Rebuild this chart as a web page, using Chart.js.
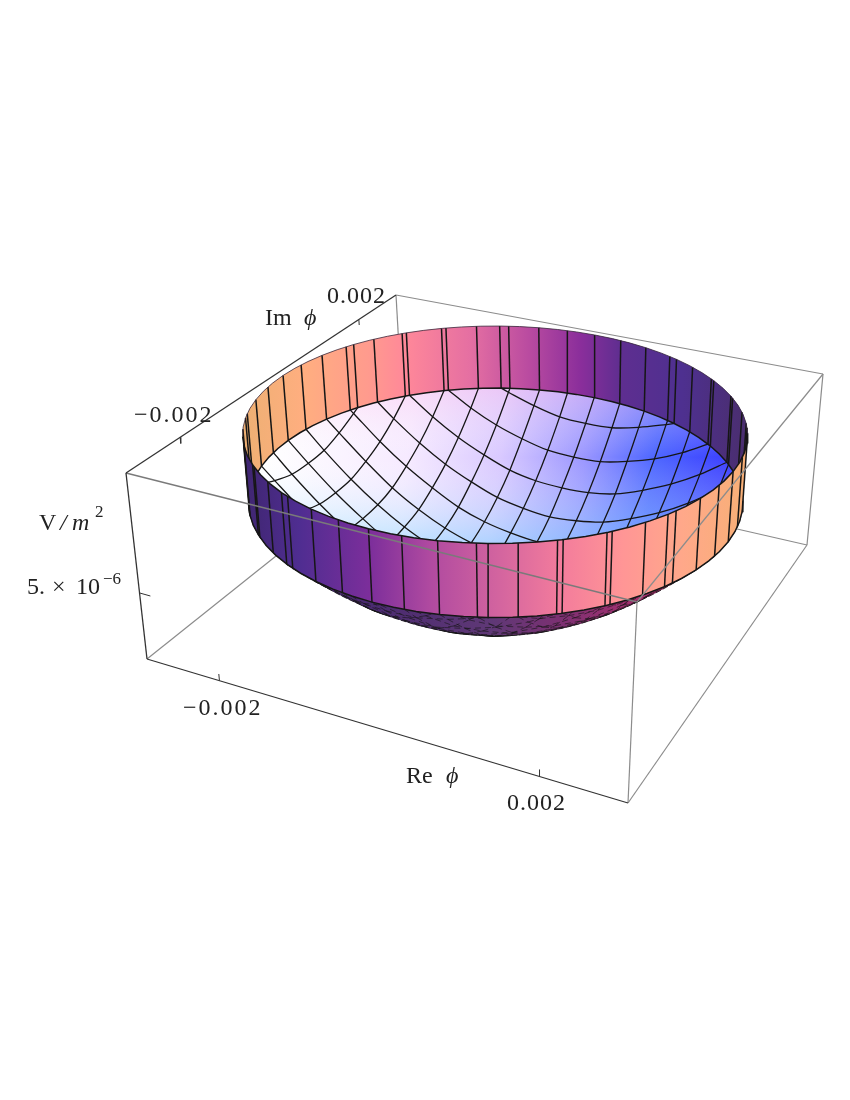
<!DOCTYPE html>
<html>
<head>
<meta charset="utf-8">
<title>V / m^2 over the complex phi plane</title>
<script src="https://cdn.jsdelivr.net/npm/chart.js@4"></script>
<style>
    html, body { margin: 0; padding: 0; background: #fff; }
    canvas { display: block; }
</style>
</head>
<body>
<canvas id="chart" width="850" height="1100"></canvas>
<script>
// ======================================
// Data
// ======================================
const meshRe = [-0.002625, -0.00225, -0.001875, -0.0015, -0.001125, -0.00075, -0.000375, 0,
    0.000375, 0.00075, 0.001125, 0.0015, 0.001875, 0.00225, 0.002625];
const meshIm = [-0.002625, -0.00225, -0.001875, -0.0015, -0.001125, -0.00075, -0.000375, 0,
    0.000375, 0.00075, 0.001125, 0.0015, 0.001875, 0.00225, 0.002625];

// V (in 1e-6) at each mesh crossing, rows = meshIm, columns = meshRe, null = outside the wall
const vMesh = [
    [null, null, null, null, 8.5, 7.8, 7.3, 7.2, 7.3, 7.8, 8.5, null, null, null, null],
    [null, null, null, 7.6, 6.6, 5.9, 5.4, 5.3, 5.4, 5.9, 6.6, 7.6, null, null, null],
    [null, null, 7.3, 6.0, 5.0, 4.2, 3.8, 3.7, 3.8, 4.2, 5.0, 6.0, 7.3, null, null],
    [null, 7.6, 6.0, 4.7, 3.7, 2.9, 2.5, 2.3, 2.5, 2.9, 3.7, 4.7, 6.0, 7.6, null],
    [8.5, 6.6, 5.0, 3.7, 2.6, 1.9, 1.5, 1.3, 1.5, 1.9, 2.6, 3.7, 5.0, 6.6, 8.5],
    [7.8, 5.9, 4.2, 2.9, 1.9, 1.2, 0.7, 0.6, 0.7, 1.2, 1.9, 2.9, 4.2, 5.9, 7.8],
    [7.3, 5.4, 3.8, 2.5, 1.5, 0.7, 0.3, 0.1, 0.3, 0.7, 1.5, 2.5, 3.8, 5.4, 7.3],
    [7.2, 5.3, 3.7, 2.3, 1.3, 0.6, 0.1, 0.0, 0.1, 0.6, 1.3, 2.3, 3.7, 5.3, 7.2],
    [7.3, 5.4, 3.8, 2.5, 1.5, 0.7, 0.3, 0.1, 0.3, 0.7, 1.5, 2.5, 3.8, 5.4, 7.3],
    [7.8, 5.9, 4.2, 2.9, 1.9, 1.2, 0.7, 0.6, 0.7, 1.2, 1.9, 2.9, 4.2, 5.9, 7.8],
    [8.5, 6.6, 5.0, 3.7, 2.6, 1.9, 1.5, 1.3, 1.5, 1.9, 2.6, 3.7, 5.0, 6.6, 8.5],
    [null, 7.6, 6.0, 4.7, 3.7, 2.9, 2.5, 2.3, 2.5, 2.9, 3.7, 4.7, 6.0, 7.6, null],
    [null, null, 7.3, 6.0, 5.0, 4.2, 3.8, 3.7, 3.8, 4.2, 5.0, 6.0, 7.3, null, null],
    [null, null, null, 7.6, 6.6, 5.9, 5.4, 5.3, 5.4, 5.9, 6.6, 7.6, null, null, null],
    [null, null, null, null, 8.5, 7.8, 7.3, 7.2, 7.3, 7.8, 8.5, null, null, null, null]
];

// bowl profile, used for the outline of the underside
const rProfile = [0, 0.0005, 0.001, 0.0012, 0.0014, 0.0016, 0.0018, 0.002, 0.0021, 0.0022,
    0.0023, 0.0024, 0.0025, 0.0026, 0.0027, 0.0028, 0.0029];
const vProfile = [0, 0.26, 1.04, 1.5, 2.04, 2.66, 3.37, 4.16, 4.59, 5.03, 5.5, 5.99, 6.5, 7.03, 7.58, 8.15, 8.73];

const rimRadius = 0.0029;
const vWallBase = 8.73;
const vWallTop = 14.08;
const rimDeg = [0, 5, 10, 15, 20, 25, 30, 35, 40, 45, 50, 55, 60, 65, 70, 75, 80, 85, 90, 95, 100, 105, 110,
    115, 120, 125, 130, 135, 140, 145, 150, 155, 160, 165, 170, 175, 180, 185, 190, 195, 200, 205, 210, 215,
    220, 225, 230, 235, 240, 245, 250, 255, 260, 265, 270, 275, 280, 285, 290, 295, 300, 305, 310, 315, 320,
    325, 330, 335, 340, 345, 350, 355];

const reTicks = [-0.002, 0.002];
const imTicks = [-0.002, 0.002];
const vTicks = [5];

// ======================================
// Projection of the plot box onto the page
// ======================================
const reRange = [-0.003, 0.003];
const imRange = [-0.003, 0.003];
const vRange = [0, 14.08];

// corners: (re-, im-), (re+, im-), (re+, im+), (re-, im+)
const boxTop = [[126, 473], [637, 602], [823, 374], [396, 295]];
const boxBottom = [[147, 659], [628, 803], [807, 545], [405, 453]];

function squareToQuad(q) {
    const [[x0, y0], [x1, y1], [x2, y2], [x3, y3]] = q;
    const dx1 = x1 - x2, dx2 = x3 - x2, sx = x0 - x1 + x2 - x3;
    const dy1 = y1 - y2, dy2 = y3 - y2, sy = y0 - y1 + y2 - y3;
    const det = dx1 * dy2 - dx2 * dy1;
    const g = (sx * dy2 - dx2 * sy) / det;
    const h = (dx1 * sy - sx * dy1) / det;
    return (u, v) => {
        const w = g * u + h * v + 1;
        return [
            ((x1 - x0 + g * x1) * u + (x3 - x0 + h * x3) * v + x0) / w,
            ((y1 - y0 + g * y1) * u + (y3 - y0 + h * y3) * v + y0) / w
        ];
    };
}

const topPlane = squareToQuad(boxTop);
const bottomPlane = squareToQuad(boxBottom);

function project(re, im, v) {
    const u = (re - reRange[0]) / (reRange[1] - reRange[0]);
    const w = (im - imRange[0]) / (imRange[1] - imRange[0]);
    const t = (v - vRange[0]) / (vRange[1] - vRange[0]);
    const a = topPlane(u, w);
    const b = bottomPlane(u, w);
    return { x: b[0] + (a[0] - b[0]) * t, y: b[1] + (a[1] - b[1]) * t };
}

function rimPoint(deg, v) {
    const a = deg * Math.PI / 180;
    return project(rimRadius * Math.cos(a), rimRadius * Math.sin(a), v);
}

// ======================================
// Datasets, painted back to front
// ======================================
const datasets = [];

function addLine(points, color, width, extra = {}) {
    datasets.push(Object.assign({
        data: points, showLine: true, pointRadius: 0, borderColor: color, borderWidth: width,
        fill: false, order: -datasets.length
    }, extra));
}

function addFill(points, background) {
    datasets.push({
        data: points.concat([points[0]]), showLine: true, pointRadius: 0, borderWidth: 0,
        borderColor: "transparent", backgroundColor: background, fill: "shape", order: -datasets.length
    });
}

function gradient(ctx, x0, y0, x1, y1, stops) {
    const g = ctx.createLinearGradient(x0, y0, x1, y1);
    stops.forEach(s => g.addColorStop(s[0], s[1]));
    return g;
}

function boxEdge(a, b, color, width) {
    const corner = p => project(reRange[p[0]], imRange[p[1]], vRange[p[2]]);
    addLine([corner(a), corner(b)], color, width);
}

const ctx = document.getElementById("chart").getContext("2d");
const gray = "#8c8c8c";
const ink = "#161616";

// split the rim at its left and right ends on the page
const rimTop = rimDeg.map(d => rimPoint(d, vWallTop));
let leftEnd = 0, rightEnd = 0;
rimTop.forEach((p, i) => {
    if (p.x < rimTop[leftEnd].x) leftEnd = i;
    if (p.x > rimTop[rightEnd].x) rightEnd = i;
});
const backDeg = [], frontDeg = [];
for (let i = rightEnd; ; i = (i + 1) % rimDeg.length) {
    backDeg.push(rimDeg[i]);
    if (i === leftEnd) break;
}
for (let i = leftEnd; ; i = (i + 1) % rimDeg.length) {
    frontDeg.push(rimDeg[i]);
    if (i === rightEnd) break;
}

function isBack(re, im) {
    const l = rimTop[leftEnd], r = rimTop[rightEnd], p = project(re, im, vWallTop);
    return p.y < l.y + (r.y - l.y) * (p.x - l.x) / (r.x - l.x);
}

// box edges behind the surface
boxEdge([0, 1, 1], [0, 1, 0], gray, 1.2);
boxEdge([0, 1, 1], [1, 1, 1], gray, 1.2);
boxEdge([1, 1, 1], [1, 1, 0], gray, 1.2);
boxEdge([0, 1, 0], [1, 1, 0], gray, 1.2);
boxEdge([0, 0, 0], [0, 1, 0], gray, 1.2);
boxEdge([1, 1, 0], [1, 0, 0], gray, 1.2);
boxEdge([1, 0, 1], [1, 0, 0], gray, 1.2);

// inside of the bowl
addFill(rimTop, gradient(ctx, 270, 430, 730, 490, [
    [0, "#ffffff"], [0.3, "#f6eaff"], [0.5, "#d9c9ff"], [0.68, "#9a96ff"], [0.83, "#4d66ff"], [1, "#3a3cff"]
]));
addFill(rimTop, gradient(ctx, 0, 385, 0, 545, [
    [0, "rgba(255,190,235,0.45)"], [0.45, "rgba(255,255,255,0)"], [1, "rgba(130,220,255,0.5)"]
]));

const meshLines = [];
meshRe.forEach((re, col) => {
    const end = Math.sqrt(rimRadius * rimRadius - re * re);
    const pts = [project(re, -end, vWallBase)];
    meshIm.forEach((im, row) => {
        if (vMesh[row][col] !== null) pts.push(project(re, im, vMesh[row][col]));
    });
    pts.push(project(re, end, vWallBase));
    meshLines.push(pts);
});
meshIm.forEach((im, row) => {
    const end = Math.sqrt(rimRadius * rimRadius - im * im);
    const pts = [project(-end, im, vWallBase)];
    meshRe.forEach((re, col) => {
        if (vMesh[row][col] !== null) pts.push(project(re, im, vMesh[row][col]));
    });
    pts.push(project(end, im, vWallBase));
    meshLines.push(pts);
});
meshLines.forEach(pts => addLine(pts, ink, 1.3, { tension: 0.3 }));

// vertical wall lines, one where each mesh line meets the wall
const wallFeet = [];
meshRe.forEach(re => {
    const end = Math.sqrt(rimRadius * rimRadius - re * re);
    wallFeet.push([re, end], [re, -end]);
});
meshIm.forEach(im => {
    const end = Math.sqrt(rimRadius * rimRadius - im * im);
    wallFeet.push([end, im], [-end, im]);
});

function addWallLines(back) {
    wallFeet.filter(f => isBack(f[0], f[1]) === back).forEach(f => {
        addLine([project(f[0], f[1], vWallBase), project(f[0], f[1], vWallTop)], ink, 1.5);
    });
}

// back wall
const backTop = backDeg.map(d => rimPoint(d, vWallTop));
const backBase = backDeg.map(d => rimPoint(d, vWallBase));
addFill(backTop.concat(backBase.slice().reverse()), gradient(ctx, 244, 0, 747, 0, [
    [0, "#eeb073"], [0.12, "#ffae80"], [0.25, "#ff9a8e"], [0.32, "#ff8899"], [0.45, "#e56fa2"],
    [0.57, "#b84aa0"], [0.67, "#8a2e9b"], [0.75, "#5e2e90"], [0.87, "#4e3090"], [1, "#4a2e6e"]
]));
addWallLines(true);
addLine(backTop, "#3a2a3a", 0.8);
addLine(backBase, ink, 1.5);

// underside of the bowl: lower hull of the profile turned round the centre
const frontBase = frontDeg.map(d => rimPoint(d, vWallBase));
const bowlPoints = frontBase.slice();
frontDeg.forEach(d => {
    const a = d * Math.PI / 180;
    rProfile.forEach((r, i) => bowlPoints.push(project(r * Math.cos(a), r * Math.sin(a), vProfile[i])));
});
bowlPoints.sort((p, q) => p.x - q.x);
const underside = [];
bowlPoints.forEach(p => {
    while (underside.length > 1) {
        const o = underside[underside.length - 2], a = underside[underside.length - 1];
        if ((a.x - o.x) * (p.y - o.y) - (a.y - o.y) * (p.x - o.x) >= 0) underside.pop();
        else break;
    }
    underside.push(p);
});
addFill(frontBase.concat(underside.slice().reverse()), gradient(ctx, 370, 0, 640, 0, [
    [0, "#4a2a70"], [0.45, "#5f3876"], [0.7, "#7b3072"], [1, "#a8306f"]
]));
meshLines.forEach(pts => {
    for (let i = 1; i < pts.length; i++) {
        if (pts[i].y > 555 && pts[i - 1].y > 555) {
            addLine([pts[i - 1], pts[i]], "rgba(20,20,20,0.75)", 0.8, { borderDash: [6, 4] });
        }
    }
});
addLine(underside, ink, 0.8, { borderDash: [6, 2] });

// front wall
const frontTop = frontDeg.map(d => rimPoint(d, vWallTop));
addFill(frontTop.concat(frontBase.slice().reverse()), gradient(ctx, 244, 0, 747, 0, [
    [0, "#3f2670"], [0.11, "#4f2d91"], [0.25, "#7c2e9b"], [0.37, "#b04aa0"], [0.51, "#d4659f"],
    [0.63, "#f37c9c"], [0.75, "#ff9596"], [0.87, "#ffa88a"], [1, "#f8b076"]
]));
addWallLines(false);
addLine(frontTop, ink, 1.5);
addLine(frontBase, ink, 1.5);

// box edges in front of the surface
boxEdge([0, 0, 1], [1, 0, 1], "#7a7a7a", 1.3);
boxEdge([1, 0, 1], [1, 1, 1], gray, 1.2);
boxEdge([0, 0, 1], [0, 1, 1], "#333333", 1.3);
boxEdge([0, 0, 1], [0, 0, 0], "#333333", 1.3);
boxEdge([0, 0, 0], [1, 0, 0], "#333333", 1.3);

// ticks
reTicks.forEach(re => addLine([project(re, imRange[0], vRange[0]), project(re, imRange[0], 0.5)], "#333333", 1));
imTicks.forEach(im => addLine([project(reRange[0], im, vRange[1]), project(reRange[0], im, 13.6)], "#333333", 1));
vTicks.forEach(v => addLine([project(reRange[0], imRange[0], v), project(-0.00285, imRange[0], v)], "#333333", 1));

// ======================================
// Labels
// ======================================
const roman = "24px 'Liberation Serif'";
const italic = "italic 24px 'Liberation Serif'";
const small = "17px 'Liberation Serif'";
const axisLabels = [
    { text: "0.002", x: 327, y: 303, font: roman, gap: "1px" },
    { text: "Im", x: 265, y: 325, font: roman, gap: "0px" },
    { text: "\u03d5", x: 304, y: 325, font: italic, gap: "0px" },
    { text: "\u22120.002", x: 134, y: 422, font: roman, gap: "2px" },
    { text: "V", x: 39, y: 530, font: roman, gap: "0px" },
    { text: "/", x: 60, y: 530, font: italic, gap: "0px" },
    { text: "m", x: 72, y: 530, font: italic, gap: "0px" },
    { text: "2", x: 95, y: 517, font: small, gap: "0px" },
    { text: "5.", x: 27, y: 594, font: roman, gap: "0px" },
    { text: "\u00d7", x: 52, y: 594, font: roman, gap: "0px" },
    { text: "10", x: 76, y: 594, font: roman, gap: "0px" },
    { text: "\u22126", x: 103, y: 584, font: small, gap: "0px" },
    { text: "\u22120.002", x: 183, y: 715, font: roman, gap: "2px" },
    { text: "Re", x: 406, y: 783, font: roman, gap: "0px" },
    { text: "\u03d5", x: 446, y: 783, font: italic, gap: "0px" },
    { text: "0.002", x: 507, y: 810, font: roman, gap: "1px" }
];

const labelPlugin = {
    id: "axisLabels",
    afterDraw(chart) {
        const c = chart.ctx;
        c.save();
        c.fillStyle = "#222222";
        c.textBaseline = "alphabetic";
        axisLabels.forEach(l => {
            c.font = l.font;
            c.letterSpacing = l.gap;
            c.fillText(l.text, chart.scales.x.getPixelForValue(l.x), chart.scales.y.getPixelForValue(l.y));
        });
        c.restore();
    }
};

// ======================================
// Chart
// ======================================
new Chart(ctx, {
    type: "scatter",
    data: { datasets },
    plugins: [labelPlugin],
    options: {
        responsive: false,
        animation: false,
        layout: { padding: 0 },
        plugins: { legend: { display: false }, tooltip: { enabled: false } },
        scales: {
            x: { type: "linear", min: 0, max: 850, display: false },
            y: { type: "linear", min: 0, max: 1100, reverse: true, display: false }
        }
    }
});
</script>
</body>
</html>
